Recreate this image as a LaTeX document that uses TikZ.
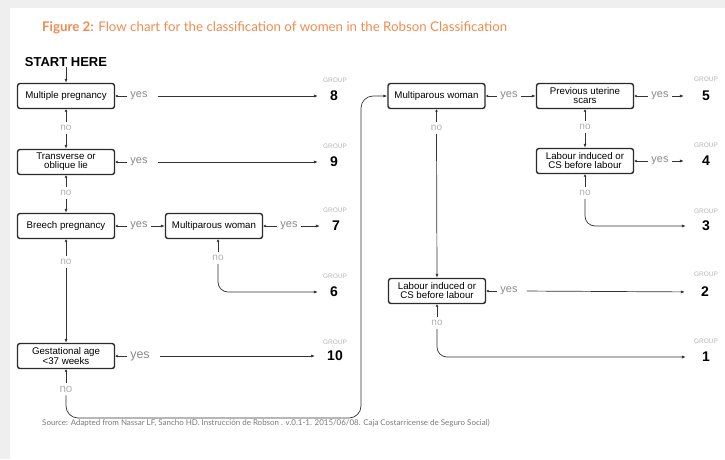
\documentclass[tikz,border=0pt]{standalone}
\usepackage{fontspec}
\setmainfont{Liberation Sans}
\newfontfamily\latofont{Lato}
\usetikzlibrary{arrows.meta}
\definecolor{orng}{HTML}{F28C4E}
\definecolor{yesc}{HTML}{8A8A8A}
\definecolor{noc}{HTML}{B0B0B0}
\definecolor{grpc}{HTML}{B5B5B5}
\definecolor{boxc}{HTML}{2B2B2B}
\definecolor{linec}{HTML}{333333}
\definecolor{bgc}{HTML}{EFEFEF}
\definecolor{srcc}{HTML}{7A7A7A}
\begin{document}
\begin{tikzpicture}[x=1pt,y=-1pt,
  decbox/.style={draw=boxc, line width=1.4pt, rounded corners=2.5pt, minimum width=97pt, minimum height=25pt, inner sep=1pt, align=center, font=\fontsize{9.7}{9}\selectfont, text=black},
  yeslbl/.style={text=yesc, font=\fontsize{11}{11}\selectfont, inner ysep=1pt, inner xsep=3pt},
  nolbl/.style={text=noc, font=\fontsize{10}{10}\selectfont, inner sep=3pt},
  grpnum/.style={font=\fontsize{14}{14}\selectfont\bfseries, inner sep=0pt},
  grplbl/.style={text=grpc, font=\fontsize{6.5}{6.5}\selectfont, inner sep=0pt},
  conn/.style={draw=linec, line width=0.7pt},
  arr/.style={conn, -{Latex[length=4pt,width=3pt]}},
  stub/.style={conn, {Latex[length=2.5pt,width=3pt]}-},
]
\useasboundingbox (0,0) rectangle (725,459);
\fill[bgc] (0,0) rectangle (725,459);
\fill[white] (10,8) rectangle (725,459);

\node[anchor=west, text=orng, font=\latofont\fontsize{13.3}{14}\selectfont, inner sep=0] (title) at (42,28) {\textbf{Figure 2:} Flow chart for the classification of women in the Robson Classification};

\node[font=\fontsize{13}{13}\selectfont\bfseries, inner sep=0] (start) at (66,62) {START HERE};

% boxes
\node[decbox] (b1) at (66,96) {Multiple pregnancy};
\node[decbox] (b2) at (66,162) {Transverse or\\oblique lie};
\node[decbox] (b3) at (66,226) {Breech pregnancy};
\node[decbox] (b3m) at (214,226) {Multiparous woman};
\node[decbox] (b4) at (66,356) {Gestational age\\<37 weeks};
\node[decbox] (r1) at (436.5,96) {Multiparous woman};
\node[decbox] (r2) at (585,96) {Previous uterine\\scars};
\node[decbox] (r3) at (585,161) {Labour induced or\\CS before labour};
\node[decbox] (r4) at (437,291) {Labour induced or\\CS before labour};

% yes labels
\node[yeslbl] (y1) at (139,96) {yes};
\node[yeslbl] (y2) at (139,162) {yes};
\node[yeslbl] (y3) at (139,226) {yes};
\node[yeslbl] (y3m) at (289,226) {yes};
\node[yeslbl, font=\fontsize{12.5}{12.5}\selectfont] (y4) at (140,356) {yes};
\node[yeslbl] (yr1) at (509,96) {yes};
\node[yeslbl] (yr2) at (660,96) {yes};
\node[yeslbl] (yr3) at (660,161) {yes};
\node[yeslbl] (yr4) at (509,291) {yes};

% no labels
\node[nolbl] (no1) at (66,128) {no};
\node[nolbl] (no2) at (66,193) {no};
\node[nolbl] (no3) at (66,262) {no};
\node[nolbl] (no3m) at (218,258) {no};
\node[nolbl, font=\fontsize{11.5}{11.5}\selectfont] (no4) at (66,389) {no};
\node[nolbl] (nr1) at (436.5,128) {no};
\node[nolbl] (nr2) at (585,127) {no};
\node[nolbl] (nr3) at (585,193) {no};
\node[nolbl] (nr4) at (437,323) {no};

% group numbers
\node[grpnum] (n8) at (334,96) {8};
\node[grpnum] (n9) at (334,162) {9};
\node[grpnum] (n7) at (336,226) {7};
\node[grpnum] (n6) at (334,292) {6};
\node[grpnum] (n10) at (335,356) {10};
\node[grpnum] (n5) at (706,96) {5};
\node[grpnum] (n4) at (706,161) {4};
\node[grpnum] (n3) at (706,226) {3};
\node[grpnum] (n2) at (705,292) {2};
\node[grpnum] (n1) at (706,357) {1};

\node[grplbl] (g8) at (335,80) {GROUP};
\node[grplbl] (g9) at (335,146) {GROUP};
\node[grplbl] (g7) at (335,210) {GROUP};
\node[grplbl] (g6) at (335,276) {GROUP};
\node[grplbl] (g10) at (335,342) {GROUP};
\node[grplbl] (g5) at (706,79) {GROUP};
\node[grplbl] (g4) at (706,145) {GROUP};
\node[grplbl] (g3) at (706,211) {GROUP};
\node[grplbl] (g2) at (706,274) {GROUP};
\node[grplbl] (g1) at (706,341) {GROUP};

% connectors left column
\draw[arr] (start) -- (b1);
\draw[stub] (b1.east) -- (y1.west);
\draw[arr, shorten <=7pt, shorten >=12pt] (y1.east) -- (n8.west);
\draw[stub] (b1.south) -- (no1.north);
\draw[arr] (no1.south) -- (b2.north);
\draw[stub] (b2.east) -- (y2.west);
\draw[arr, shorten <=7pt, shorten >=12pt] (y2.east) -- (n9.west);
\draw[stub] (b2.south) -- (no2.north);
\draw[arr] (no2.south) -- (b3.north);
\draw[stub] (b3.east) -- (y3.west);
\draw[arr] (y3.east) -- (b3m.west);
\draw[stub] (b3m.east) -- (y3m.west);
\draw[arr, shorten >=12pt] (y3m.east) -- (n7.west);
\draw[stub] (b3m.south -| no3m) -- (no3m.north);
\draw[arr, rounded corners=10pt, shorten >=12pt] (no3m.south) |- (n6.west);
\draw[stub] (b3.south) -- (no3.north);
\draw[arr] (no3.south) -- (b4.north);
\draw[stub] (b4.east) -- (y4.west);
\draw[arr, shorten <=7pt, shorten >=12pt] (y4.east) -- (n10.west);
\draw[stub] (b4.south) -- (no4.north);
\coordinate (loopA) at (361,418);
\draw[arr, rounded corners=12pt] (no4.south) |- (loopA) |- (r1.west);

% connectors right column
\draw[stub] (r1.east) -- (yr1.west);
\draw[arr] (yr1.east) -- (r2.west);
\draw[stub] (r2.east) -- (yr2.west);
\draw[arr, shorten >=18pt] (yr2.east) -- (n5.west);
\draw[stub] (r2.south) -- (nr2.north);
\draw[arr] (nr2.south) -- (r3.north);
\draw[stub] (r3.east) -- (yr3.west);
\draw[arr, shorten >=18pt] (yr3.east) -- (n4.west);
\draw[stub] (r3.south) -- (nr3.north);
\draw[arr, rounded corners=10pt, shorten >=16pt] (nr3.south) |- (n3.west);
\draw[stub] (r1.south) -- (nr1.north);
\draw[arr] (nr1.south) -- (r4.north);
\draw[stub] (r4.east) -- (yr4.west);
\draw[arr, shorten <=6pt, shorten >=16pt] (yr4.east) -- (n2.west);
\draw[stub] (r4.south) -- (nr4.north);
\draw[arr, rounded corners=10pt, shorten >=16pt] (nr4.south) |- (n1.west);

\node[anchor=west, text=srcc, font=\latofont\fontsize{7.95}{8}\selectfont, inner sep=0] (src) at (42,423) {Source: Adapted from Nassar LF, Sancho HD. Instrucción de Robson . v.0.1-1. 2015/06/08. Caja Costarricense de Seguro Social)};
\end{tikzpicture}
\end{document}
